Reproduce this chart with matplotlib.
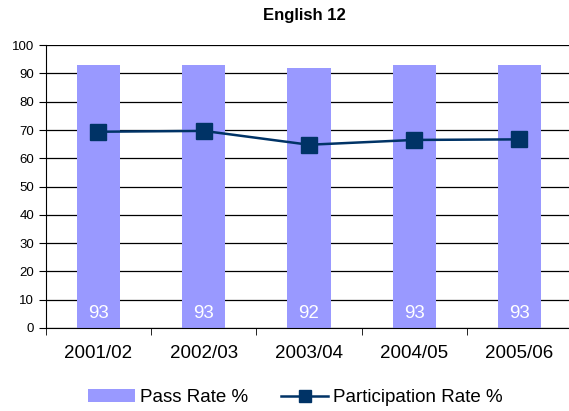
import matplotlib
matplotlib.use("Agg")
import matplotlib.pyplot as plt
import numpy as np

years = ["2001/02", "2002/03", "2003/04", "2004/05", "2005/06"]
pass_rate = [93, 93, 92, 93, 93]
participation = [69.4, 69.7, 64.8, 66.5, 66.7]

plt.rcParams['font.family'] = ['Liberation Sans', 'DejaVu Sans']

fig = plt.figure(figsize=(5.69, 4.11), dpi=100)
# plot area runs slightly past the right edge, as in the original
ax = fig.add_axes([0.0805, 0.202, 0.925, 0.688])

x = np.arange(len(years))
bars = ax.bar(x, pass_rate, width=0.41, color="#9999FF", zorder=2, label="Pass Rate %")
line, = ax.plot(x, participation, color="#003366", lw=1.8, marker="s", ms=11,
                zorder=3, label="Participation Rate %")

for xi, v in zip(x, pass_rate):
    ax.text(xi, 2, str(v), color="white", ha="center", va="bottom", fontsize=13.5, zorder=4)

ax.set_xlim(-0.5, len(years) - 0.5)
ax.set_ylim(0, 100)
ax.set_yticks(range(0, 101, 10))
ax.yaxis.grid(True, color="black", lw=0.9)
ax.set_axisbelow(True)
ax.set_xticks(x)
ax.set_xticklabels(years, fontsize=13.5)
ax.set_xticks(np.arange(-0.5, len(years)), minor=True)
ax.tick_params(axis="x", which="major", length=0, pad=12)
ax.tick_params(axis="x", which="minor", length=5, direction="out")
ax.tick_params(axis="y", labelsize=9.5, length=5, direction="out")
for s in ["top", "right"]:
    ax.spines[s].set_visible(False)

fig.text(0.535, 0.962, "English 12", fontsize=12, fontweight="bold",
         ha="center", va="center")

fig.legend([bars, line], ["Pass Rate %", "Participation Rate %"],
           loc="center", ncol=2, frameon=False, fontsize=13.5,
           bbox_to_anchor=(0.519, 0.032), handlelength=2.5, handletextpad=0.25,
           columnspacing=1.8, markerscale=0.85)

fig.savefig("out.png", dpi=100)
